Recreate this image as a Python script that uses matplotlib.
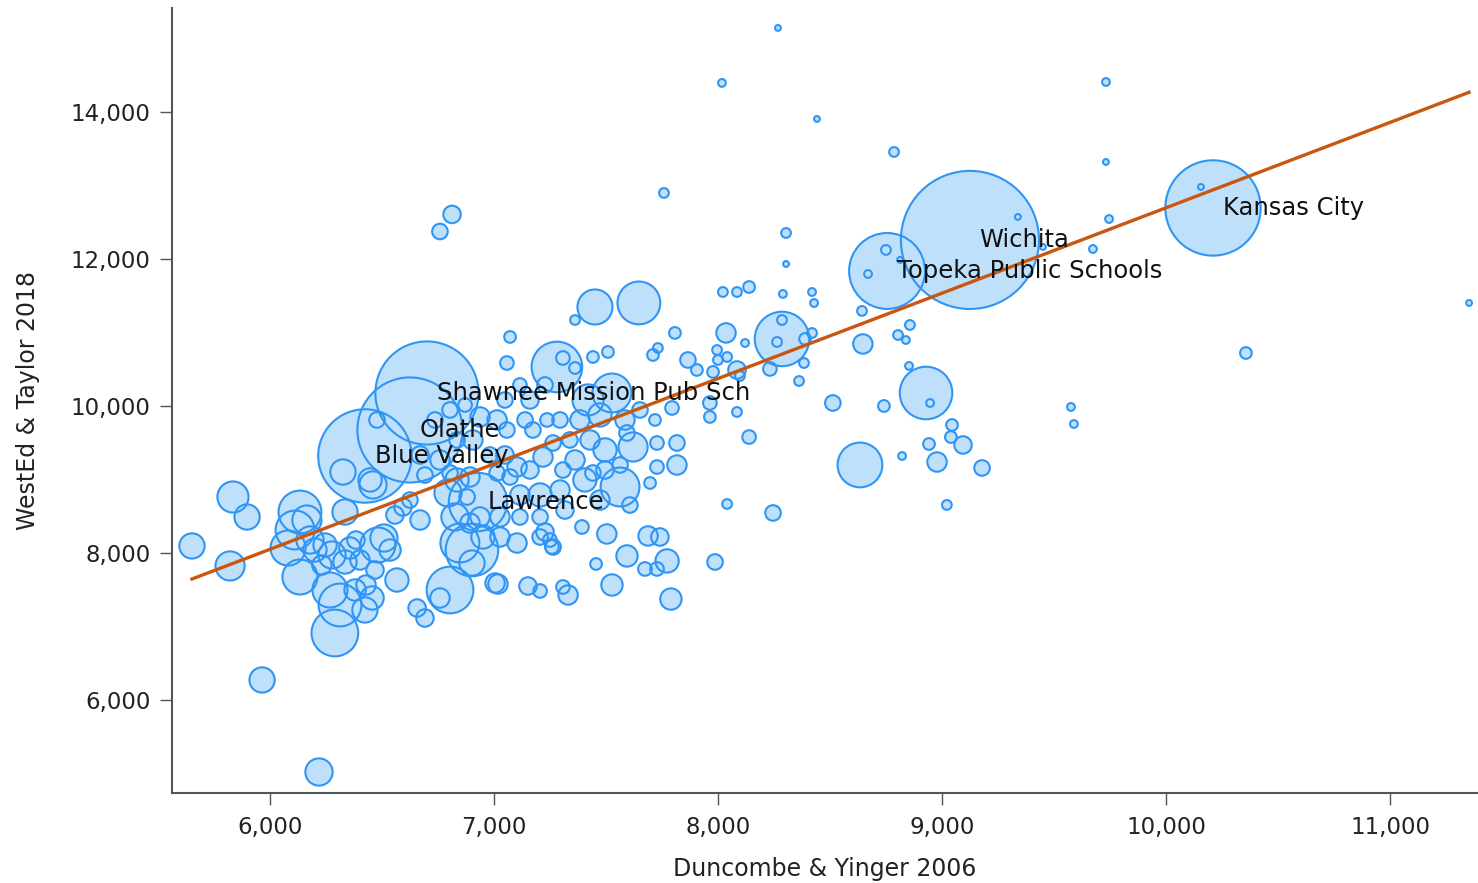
import matplotlib
matplotlib.use("Agg")
import matplotlib.pyplot as plt
import numpy as np
from matplotlib.ticker import FuncFormatter

# labelled districts come first in the arrays below
names = ["Shawnee Mission Pub Sch", "Olathe", "Blue Valley", "Lawrence",
         "Wichita", "Topeka Public Schools", "Kansas City"]

# per-pupil cost estimates: Duncombe & Yinger 2006 (x), WestEd & Taylor 2018 (y)
x_dy = [6701, 6625, 6424, 6929, 9125, 8755, 10210,
        5652, 5822, 5835, 5898, 5965, 6219, 6134, 6112, 6165, 6081,
        6134, 6201, 6232, 6277, 6335, 6313, 6290, 6268, 6357, 6384,
        6456, 6429, 6482, 6509, 6536, 6567, 6335, 6326, 6460, 6657,
        6692, 6804, 6759, 6179, 6246, 6402, 6469, 6380, 6424,
        6478, 6447, 6594, 6938, 7014, 7058, 7139, 7174, 7237, 7264,
        7219, 7308, 7103, 7072, 7014, 6893, 6835, 6795, 6880, 6826,
        6893, 6938, 7027, 7116, 7206, 6848, 6951, 7027, 7103, 7206,
        7264, 6804, 6906, 6835, 6902, 6902, 7005, 6813, 6759, 7072,
        7058, 7451, 7647, 7362, 7281, 7308, 7362, 7442, 7509, 7808,
        7710, 7732, 7866, 7906, 7527, 7420, 7795, 7728, 7817, 7817,
        7621, 7563, 7728, 7697, 7442, 7393, 7504, 7688, 7741, 7594,
        7456, 7773, 7674, 7728, 7987, 8041, 7018, 7152, 7206, 7308,
        7331, 7527, 7790, 7228, 7250, 7259, 7384, 7473, 7585, 7339,
        7429, 7496, 7362, 7406, 7295, 7206, 7116, 7161, 7496, 7563,
        7473, 7317, 7607, 6982, 7049, 7161, 7228, 7116, 7049, 7652,
        7719, 7295, 7594, 8022, 8085, 8139, 8290, 8420, 8429, 8643,
        8857, 8804, 8839, 8647, 8286, 8286, 8264, 8389, 8384, 8420,
        8121, 8036, 7996, 8041, 8000, 7978, 8085, 8098, 8232, 8362,
        7964, 7964, 8085, 8513, 8741, 8929, 8947, 8853, 9045, 9040,
        9094, 8942, 8822, 8634, 8978, 9179, 8139, 8246, 9022, 8268,
        8018, 8442, 8786, 7759, 8304, 8304, 9339, 8750, 8670, 8813,
        9732, 9732, 9746, 9674, 10156, 11353, 10357, 9576, 9589, 9451,
        6737, 6804, 6871, 6670, 6759, 6692, 6625, 6558, 6670]

y_wt = [10177, 9674, 9320, 8694, 12259, 11837, 12694,
        8096, 7824, 8762, 8490, 6273, 5021, 8558, 8313, 8449, 8068,
        7674, 8041, 7837, 7973, 7878, 7293, 6912, 7497, 8068, 8177,
        7388, 7565, 8109, 8204, 8041, 7633, 8558, 9102, 8926, 7252,
        7116, 7497, 7388, 8177, 8109, 7905, 7769, 7497, 7225,
        9810, 8994, 8626, 9851, 9810, 9674, 9810, 9674, 9810, 9497,
        9306, 9129, 9170, 9034, 9089, 9034, 8994, 8817, 8762, 8490,
        8408, 8490, 8490, 8490, 8490, 8136, 8218, 8218, 8136, 8218,
        8082, 9089, 9538, 9538, 8041, 7864, 7592, 12606, 12374, 10939,
        10585, 11347, 11402, 11170, 10531, 10653, 10517, 10667, 10735, 10994,
        10694, 10789, 10626, 10490, 10177, 10082, 9973, 9497, 9497, 9197,
        9442, 8898, 9170, 8953, 9089, 8354, 8259, 8232, 8218, 7960,
        7851, 7892, 7783, 7783, 7878, 8667, 7578, 7551, 7483, 7538,
        7429, 7565, 7374, 8286, 8177, 8082, 9810, 9878, 9810, 9538,
        9538, 9402, 9266, 8994, 8857, 8790, 8790, 9130, 9130, 9198,
        8721, 8585, 8653, 9334, 9334, 10082, 10286, 10286, 10082, 9946,
        9810, 9810, 9633, 11551, 11551, 11619, 11524, 11551, 11401, 11293,
        11102, 10966, 10898, 10844, 10912, 11170, 10871, 10912, 10585, 10993,
        10857, 10994, 10762, 10667, 10626, 10463, 10490, 10408, 10504, 10340,
        10041, 9851, 9919, 10041, 10000, 10177, 10041, 10545, 9742, 9578,
        9470, 9483, 9320, 9198, 9238, 9157, 9578, 8545, 8654, 15143,
        14395, 13905, 13456, 12898, 12354, 11932, 12572, 12123, 11796, 11987,
        14408, 13320, 12544, 12136, 12980, 11402, 10721, 9987, 9755, 12164,
        9810, 9946, 10014, 9334, 9266, 9061, 8721, 8517, 8449]

# enrollment (bubble area)
enroll = [25650, 26620, 21040, 8220, 46000, 13890, 21920,
          1540, 2050, 2340, 1540, 1540, 1790, 4420, 3650, 2050, 2960,
          2960, 1310, 910, 1790, 1310, 4420, 5260, 2960, 1100, 740,
          1310, 910, 2960, 1790, 1100, 1310, 1540, 1540, 1790, 740,
          740, 5260, 910, 1790, 1310, 910, 740, 1100, 1540,
          584, 1310, 740, 910, 910, 584, 584, 584, 447, 584,
          910, 584, 910, 584, 584, 910, 1310, 1790, 584, 1790,
          910, 910, 910, 584, 584, 3650, 1310, 910, 910, 584,
          584, 584, 910, 584, 6660, 1540, 910, 740, 584, 329,
          447, 2960, 4420, 228, 6170, 447, 329, 329, 329, 329,
          329, 228, 584, 329, 3650, 2340, 447, 447, 584, 910,
          2050, 3650, 447, 329, 584, 447, 910, 910, 740, 1100,
          329, 1310, 447, 447, 584, 228, 910, 740, 447, 447,
          910, 1100, 1100, 740, 447, 447, 910, 1310, 910, 584,
          910, 1310, 910, 1310, 910, 1310, 910, 740, 740, 584,
          910, 740, 584, 584, 740, 740, 584, 447, 584, 584,
          329, 584, 584, 228, 228, 329, 146, 146, 146, 228,
          228, 228, 146, 910, 7160, 228, 228, 329, 228, 228,
          146, 910, 228, 228, 228, 329, 740, 228, 447, 228,
          447, 329, 228, 584, 329, 6660, 146, 146, 329, 329,
          740, 329, 146, 4830, 910, 584, 447, 584, 228, 82,
          146, 82, 228, 228, 228, 82, 82, 228, 146, 82,
          146, 82, 146, 146, 82, 82, 329, 146, 146, 82,
          584, 584, 447, 740, 910, 584, 584, 740, 910]

# fitted line: y = intercept + slope * x
fit_slope = 1.1614
fit_intercept = 1082

x_ticks = [6000, 7000, 8000, 9000, 10000, 11000]
y_ticks = [6000, 8000, 10000, 12000, 14000]

plt.rcParams['font.family'] = 'DejaVu Sans'

fig = plt.figure(figsize=(14.78, 8.83), dpi=100)
ax = fig.add_axes([0.1164, 0.1019, 0.8836, 0.8891])

x = np.array(x_dy, dtype=float)
y = np.array(y_wt, dtype=float)
s = np.array(enroll, dtype=float) * 0.215

# fills first, then outlines, so every outline stays visible
ax.scatter(x, y, s=s, facecolor='#bfe0fb', edgecolor='none', zorder=2)
ax.scatter(x, y, s=s, facecolor='none', edgecolor='#2f95f5', linewidth=1.5, zorder=3)

xf = np.array([x.min(), x.max()])
ax.plot(xf, fit_intercept + fit_slope * xf, color='#c9570f', lw=2.4, zorder=4)

for i, name in enumerate(names):
    ax.annotate(name, (x[i], y[i]), xytext=(7, 0), textcoords='offset points',
                ha='left', va='center', fontsize=17.5, color='#111111', zorder=5)

ax.set_xlim(5563, 11393)
ax.set_ylim(4735, 15415)
ax.set_xticks(x_ticks)
ax.set_yticks(y_ticks)
fmt = FuncFormatter(lambda v, p: f"{int(v):,}")
ax.xaxis.set_major_formatter(fmt)
ax.yaxis.set_major_formatter(fmt)

for side in ['top', 'right']:
    ax.spines[side].set_visible(False)
for side in ['left', 'bottom']:
    ax.spines[side].set_color('#555555')
    ax.spines[side].set_linewidth(1.5)

ax.tick_params(direction='out', length=8.5, width=1, color='#555555',
               labelsize=16.5, labelcolor='#222222')
ax.tick_params(axis='x', pad=8)
ax.tick_params(axis='y', pad=7)

ax.set_xlabel('Duncombe & Yinger 2006', fontsize=17, color='#222222', labelpad=13)
ax.set_ylabel('WestEd & Taylor 2018', fontsize=17, color='#222222', labelpad=22)

fig.savefig('out.png', dpi=100)
